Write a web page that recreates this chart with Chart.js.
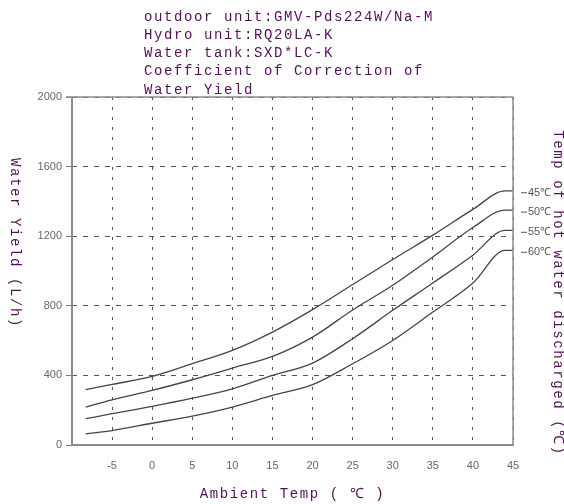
<!DOCTYPE html>
<html><head><meta charset="utf-8">
<script src="https://cdn.jsdelivr.net/npm/chart.js@4.4.1/dist/chart.umd.min.js"></script>
<style>html,body{margin:0;padding:0;background:#fff}#wrap{width:564px;height:504px;position:relative}</style>
</head><body><div id="wrap"><canvas id="c" width="564" height="504"></canvas></div>
<script>
// ---- data ----
const ambientTemp = [-8.3, -5, 0, 5, 10, 15, 20, 25, 30, 35, 40, 44, 45];
const yield45 = [318, 348, 394, 467, 544, 649, 778, 922, 1066, 1206, 1354, 1461, 1461];
const yield50 = [218, 260, 314, 375, 442, 509, 620, 776, 918, 1081, 1250, 1350, 1350];
const yield55 = [151, 180, 222, 269, 323, 400, 471, 611, 774, 931, 1091, 1234, 1234];
const yield60 = [64, 83, 125, 166, 218, 285, 347, 467, 601, 764, 931, 1119, 1119];
const seriesNames = ['45℃', '50℃', '55℃', '60℃'];
const xTicks = [-5, 0, 5, 10, 15, 20, 25, 30, 35, 40, 45];
const yTicks = [0, 400, 800, 1200, 1600, 2000];
const titleLines = ['outdoor unit:GMV-Pds224W/Na-M', 'Hydro unit:RQ20LA-K', 'Water tank:SXD*LC-K', 'Coefficient of Correction of', 'Water Yield'];
const xTitle = 'Ambient Temp ( ℃ )';
const yTitle = 'Water Yield (L/h)';
const y2Title = 'Temp of hot water discharged (℃)';

const purple = '#521058';
const monoFont = '14px "Liberation Mono", "DejaVu Sans Mono", monospace';

const allSeries = [yield45, yield50, yield55, yield60];
const datasets = allSeries.map((s, i) => ({
  label: seriesNames[i],
  data: s.map((v, j) => ({x: ambientTemp[j], y: v})),
  borderColor: '#454545',
  borderWidth: 1.3,
  pointRadius: 0,
  cubicInterpolationMode: 'monotone',
  fill: false
}));

const decor = {
  id: 'decor',
  afterDraw(chart) {
    const ctx = chart.ctx;
    const a = chart.chartArea;
    ctx.save();
    ctx.setLineDash([]);
    ctx.strokeStyle = '#8c8c8c';
    ctx.lineWidth = 1.5;
    ctx.beginPath();
    ctx.moveTo(66, a.top); ctx.lineTo(a.right, a.top);
    ctx.moveTo(a.right, a.top); ctx.lineTo(a.right, a.bottom);
    ctx.stroke();
    ctx.lineWidth = 2;
    ctx.beginPath();
    ctx.moveTo(a.left, a.top); ctx.lineTo(a.left, a.bottom + 1);
    ctx.moveTo(a.left, a.bottom); ctx.lineTo(a.right + 1, a.bottom);
    ctx.stroke();

    ctx.fillStyle = purple;
    ctx.font = monoFont;
    ctx.letterSpacing = '1.6px';
    ctx.textBaseline = 'middle';
    ctx.textAlign = 'left';
    titleLines.forEach((t, i) => ctx.fillText(t, 144, 17 + i * 18.2));
    ctx.textAlign = 'center';
    ctx.fillText(xTitle, (a.left + a.right) / 2, 494);
    ctx.save();
    ctx.translate(15, 243);
    ctx.rotate(Math.PI / 2);
    ctx.fillText(yTitle, 0, 0);
    ctx.restore();
    ctx.save();
    ctx.translate(558, 293);
    ctx.rotate(Math.PI / 2);
    ctx.fillText(y2Title, 0, 0);
    ctx.restore();

    ctx.letterSpacing = '0px';
    ctx.font = '11px "Liberation Sans", Arial, sans-serif';
    ctx.fillStyle = '#555';
    ctx.strokeStyle = '#555';
    ctx.lineWidth = 1;
    ctx.textAlign = 'left';
    const ys = chart.scales.y;
    allSeries.forEach((s, i) => {
      const py = ys.getPixelForValue(s[s.length - 1]) + 2;
      ctx.beginPath();
      ctx.moveTo(521, py); ctx.lineTo(527, py);
      ctx.stroke();
      ctx.fillText(seriesNames[i], 528, py);
    });
    ctx.restore();
  }
};

new Chart(document.getElementById('c'), {
  type: 'line',
  data: {datasets},
  options: {
    responsive: false,
    animation: false,
    devicePixelRatio: 1,
    layout: {padding: {top: 97, right: 51, bottom: 0, left: 0}},
    plugins: {legend: {display: false}, tooltip: {enabled: false}, title: {display: false}},
    scales: {
      x: {
        type: 'linear', min: -10, max: 45,
        afterBuildTicks: s => { s.ticks = xTicks.map(v => ({value: v})); },
        afterFit: s => { s.height = 59; },
        ticks: {color: '#666', font: {family: '"Liberation Sans", Arial, sans-serif', size: 11}, padding: 14, maxRotation: 0, autoSkip: false},
        grid: {color: '#555', lineWidth: 1, drawTicks: false},
        border: {display: false, dash: [3, 7]}
      },
      y: {
        type: 'linear', min: 0, max: 2000,
        afterBuildTicks: s => { s.ticks = yTicks.map(v => ({value: v})); },
        afterFit: s => { s.width = 72; },
        ticks: {color: '#666', font: {family: '"Liberation Sans", Arial, sans-serif', size: 11}, padding: 4, callback: v => String(v)},
        grid: {color: '#555', lineWidth: 1, drawTicks: true, tickLength: 6, tickColor: '#777', tickBorderDash: []},
        border: {display: false, dash: [5, 6]}
      }
    }
  },
  plugins: [decor]
});
</script>
</body></html>
